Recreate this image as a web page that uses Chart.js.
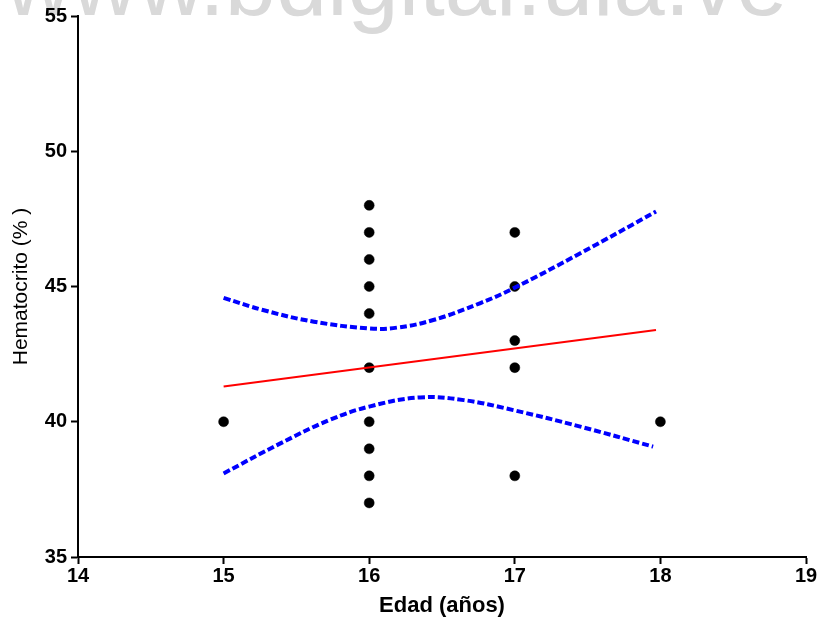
<!DOCTYPE html>
<html>
<head>
<meta charset="utf-8">
<script src="https://cdn.jsdelivr.net/npm/chart.js@4/dist/chart.umd.min.js"></script>
<style>
  html, body { margin: 0; padding: 0; background: #fff; }
  #chart { display: block; }
</style>
</head>
<body>
<canvas id="chart" width="822" height="624"></canvas>
<script>
// observed values
const ageX = [15, 16, 16, 16, 16, 16, 16, 16, 16, 16, 16, 17, 17, 17, 17, 17, 18];
const hctY = [40, 48, 47, 46, 45, 44, 42, 40, 39, 38, 37, 47, 45, 43, 42, 38, 40];

// regression line
const fitX = [15, 17.97];
const fitY = [41.3, 43.39];

// 95% confidence bands
const upperX = [15, 15.27, 15.62, 16.0, 16.19, 16.44, 16.76, 16.99, 17.45, 17.97];
const upperY = [44.58, 44.13, 43.7, 43.45, 43.48, 43.76, 44.38, 44.93, 46.23, 47.77];
const lowerX = [15, 15.39, 15.73, 16.0, 16.35, 16.65, 16.99, 17.45, 17.95];
const lowerY = [38.09, 39.2, 40.07, 40.56, 40.9, 40.8, 40.43, 39.82, 39.08];

const xTicks = [14, 15, 16, 17, 18, 19];
const yTicks = [35, 40, 45, 50, 55];

const toPoints = (xs, ys) => xs.map((x, i) => ({ x: x, y: ys[i] }));

const FONT = "'Liberation Sans', Arial, sans-serif";

const watermark = {
  id: "watermark",
  beforeDraw(chart) {
    const ctx = chart.ctx;
    ctx.save();
    ctx.font = "92px " + FONT;
    ctx.fillStyle = "#d9d9d9";
    ctx.textBaseline = "alphabetic";
    ctx.fillText("www.bdigital.ula.ve", 5, 15);
    ctx.restore();
  },
};

new Chart(document.getElementById("chart"), {
  type: "scatter",
  data: {
    datasets: [
      {
        label: "Superior",
        data: toPoints(upperX, upperY),
        showLine: true,
        borderColor: "#0000ff",
        borderWidth: 4,
        borderDash: [7, 3],
        tension: 0.4,
        pointRadius: 0,
        fill: false,
      },
      {
        label: "Inferior",
        data: toPoints(lowerX, lowerY),
        showLine: true,
        borderColor: "#0000ff",
        borderWidth: 4,
        borderDash: [7, 3],
        tension: 0.4,
        pointRadius: 0,
        fill: false,
      },
      {
        label: "Regresión",
        data: toPoints(fitX, fitY),
        showLine: true,
        borderColor: "#ff0000",
        borderWidth: 2,
        pointRadius: 0,
        fill: false,
      },
      {
        label: "Hematocrito",
        data: toPoints(ageX, hctY),
        backgroundColor: "#000",
        borderColor: "#000",
        borderWidth: 0.5,
        pointRadius: 5,
        pointHoverRadius: 5,
      },
    ],
  },
  options: {
    responsive: false,
    animation: false,
    layout: { padding: { top: 16, right: 16, left: 0, bottom: 0 } },
    plugins: {
      legend: { display: false },
      tooltip: { enabled: false },
    },
    scales: {
      x: {
        type: "linear",
        min: 14,
        max: 19,
        afterBuildTicks: (scale) => {
          scale.ticks = xTicks.map((v) => ({ value: v }));
        },
        afterFit: (scale) => {
          scale.height = 67;
        },
        grid: {
          drawOnChartArea: false,
          drawTicks: true,
          tickLength: 7,
          tickColor: "#000",
          tickWidth: 2,
        },
        border: { color: "#000", width: 2 },
        ticks: {
          color: "#000",
          padding: 0,
          maxRotation: 0,
          font: { family: FONT, size: 20, weight: "bold" },
        },
        title: {
          display: true,
          text: "Edad (años)",
          color: "#000",
          padding: { top: 0, bottom: 5 },
          font: { family: FONT, size: 22, weight: "bold" },
        },
      },
      y: {
        type: "linear",
        min: 35,
        max: 55,
        afterBuildTicks: (scale) => {
          scale.ticks = yTicks.map((v) => ({ value: v }));
        },
        afterFit: (scale) => {
          scale.width = 78;
        },
        grid: {
          drawOnChartArea: false,
          drawTicks: true,
          tickLength: 7,
          tickColor: "#000",
          tickWidth: 2,
        },
        border: { color: "#000", width: 2 },
        ticks: {
          color: "#000",
          padding: 4,
          font: { family: FONT, size: 20, weight: "bold" },
        },
        title: {
          display: true,
          text: "Hematocrito (% )",
          color: "#000",
          padding: { top: 9, bottom: 0 },
          font: { family: FONT, size: 21 },
        },
      },
    },
  },
  plugins: [watermark],
});
</script>
</body>
</html>
